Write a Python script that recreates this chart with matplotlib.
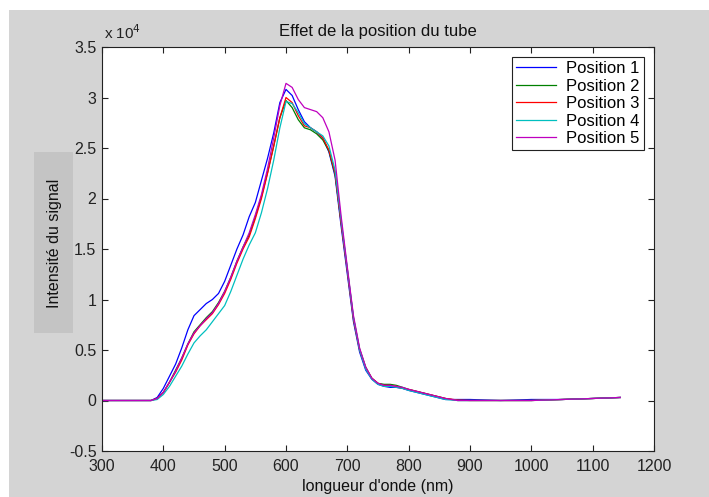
import numpy as np
import matplotlib.pyplot as plt
from matplotlib.patches import Rectangle
from matplotlib.ticker import FuncFormatter

plt.rcParams['font.family'] = ['Liberation Sans', 'DejaVu Sans']

# wavelength (nm) and signal (units of 1e4)
wl = [300, 380, 390, 400, 410, 420, 430, 440, 450, 460, 470, 480, 490, 500,
      510, 520, 530, 540, 550, 560, 570, 580, 590, 600, 610, 620, 630, 640,
      650, 660, 670, 680, 690, 700, 710, 720, 730, 740, 750, 760, 770, 780,
      790, 800, 820, 840, 860, 880, 900, 950, 1000, 1050, 1100, 1145]

pos1 = [0, 0, 0.03, 0.12, 0.24, 0.36, 0.52, 0.70, 0.84, 0.90, 0.96, 1.00, 1.06, 1.18,
        1.34, 1.50, 1.64, 1.82, 1.96, 2.18, 2.40, 2.65, 2.95, 3.08, 3.02, 2.88, 2.76, 2.70,
        2.66, 2.60, 2.46, 2.22, 1.72, 1.25, 0.78, 0.48, 0.30, 0.21, 0.16, 0.14, 0.13, 0.13,
        0.12, 0.10, 0.07, 0.04, 0.01, 0.01, 0.01, 0.0, 0.01, 0.01, 0.02, 0.03]
pos2 = [0, 0, 0.02, 0.08, 0.18, 0.30, 0.42, 0.56, 0.68, 0.75, 0.82, 0.88, 0.97, 1.08,
        1.22, 1.38, 1.52, 1.64, 1.82, 2.02, 2.26, 2.52, 2.80, 2.97, 2.90, 2.78, 2.70, 2.68,
        2.64, 2.58, 2.47, 2.24, 1.76, 1.30, 0.82, 0.51, 0.33, 0.22, 0.17, 0.16, 0.16, 0.15,
        0.13, 0.11, 0.08, 0.05, 0.02, 0.0, 0.0, 0.0, 0.0, 0.01, 0.02, 0.03]
pos3 = [0, 0, 0.02, 0.08, 0.18, 0.28, 0.40, 0.55, 0.66, 0.74, 0.80, 0.86, 0.95, 1.06,
        1.20, 1.36, 1.50, 1.62, 1.80, 2.00, 2.25, 2.52, 2.80, 3.00, 2.95, 2.82, 2.72, 2.70,
        2.66, 2.60, 2.48, 2.25, 1.75, 1.28, 0.80, 0.50, 0.32, 0.22, 0.17, 0.15, 0.15, 0.14,
        0.12, 0.11, 0.08, 0.05, 0.02, 0.005, 0.0, 0.0, 0.0, 0.01, 0.02, 0.03]
pos4 = [0, 0, 0.01, 0.06, 0.14, 0.24, 0.34, 0.46, 0.57, 0.64, 0.70, 0.78, 0.86, 0.94,
        1.08, 1.24, 1.40, 1.54, 1.66, 1.86, 2.10, 2.38, 2.70, 2.96, 2.94, 2.85, 2.74, 2.70,
        2.66, 2.62, 2.52, 2.28, 1.78, 1.30, 0.82, 0.50, 0.31, 0.21, 0.16, 0.14, 0.14, 0.13,
        0.12, 0.10, 0.07, 0.04, 0.01, 0.0, 0.0, 0.0, 0.0, 0.01, 0.02, 0.03]
pos5 = [0, 0, 0.02, 0.08, 0.18, 0.29, 0.42, 0.56, 0.67, 0.74, 0.81, 0.87, 0.96, 1.08,
        1.22, 1.38, 1.52, 1.66, 1.84, 2.04, 2.30, 2.60, 2.92, 3.14, 3.10, 2.98, 2.90, 2.88,
        2.86, 2.80, 2.66, 2.38, 1.82, 1.32, 0.84, 0.52, 0.33, 0.22, 0.17, 0.15, 0.15, 0.14,
        0.13, 0.11, 0.08, 0.05, 0.02, 0.0, 0.0, 0.0, 0.0, 0.01, 0.02, 0.03]

series = [pos1, pos2, pos3, pos4, pos5]
labels = ['Position 1', 'Position 2', 'Position 3', 'Position 4', 'Position 5']
colors = ['#0000ff', '#008000', '#ff0000', '#00bfbf', '#bf00bf']

fig = plt.figure(figsize=(7.09, 4.97), dpi=100, facecolor='white')
W, H = 709, 497

# grey figure area (image has a thin white border top/left)
fig.patches.append(Rectangle((9 / W, 0), 1, (H - 10) / H, transform=fig.transFigure,
                             facecolor='#d4d4d4', edgecolor='none', zorder=-2))
# darker box behind the y label
fig.patches.append(Rectangle((34 / W, (H - 333) / H), 39 / W, 181 / H,
                             transform=fig.transFigure, facecolor='#c4c4c4',
                             edgecolor='none', zorder=-1))

ax = fig.add_axes([102 / W, (H - 451) / H, 552 / W, 404 / H])
ax.set_facecolor('white')

for s, lab, c in zip(series, labels, colors):
    ax.plot(wl, np.array(s) * 1e4, color=c, lw=0.9, label=lab)

ax.set_xlim(300, 1200)
ax.set_ylim(-5000, 35000)
ax.set_xticks(np.arange(300, 1201, 100))
ax.set_yticks(np.arange(-5000, 35001, 5000))
ax.yaxis.set_major_formatter(FuncFormatter(lambda v, p: '%g' % (v / 1e4)))
ax.tick_params(direction='in', length=4, width=0.8, top=True, right=True,
               labelsize=11.5, colors='#222222')
ax.tick_params(axis='x', pad=6)
ax.tick_params(axis='y', pad=4)
for sp in ax.spines.values():
    sp.set_linewidth(0.8)
    sp.set_color('#222222')

ax.set_title('Effet de la position du tube', fontsize=12, pad=8, color='#111111')
ax.set_xlabel("longueur d'onde (nm)", fontsize=11.5, labelpad=3, color='#111111')
fig.text(55 / W, (H - 243) / H, 'Intensité du signal', rotation=90,
         ha='center', va='center', fontsize=11.5, color='#111111')
fig.text(104 / W, (H - 33) / H, r'x 10$^4$', fontsize=11, color='#222222',
         ha='left', va='center')

leg = ax.legend(loc='upper right', fontsize=12, fancybox=False, framealpha=1,
                edgecolor='#222222', handlelength=2.4, borderpad=0.25,
                labelspacing=0.15, borderaxespad=0.6, handletextpad=0.6)
leg.get_frame().set_linewidth(0.8)

fig.savefig('out.png', dpi=100, facecolor=fig.get_facecolor())
